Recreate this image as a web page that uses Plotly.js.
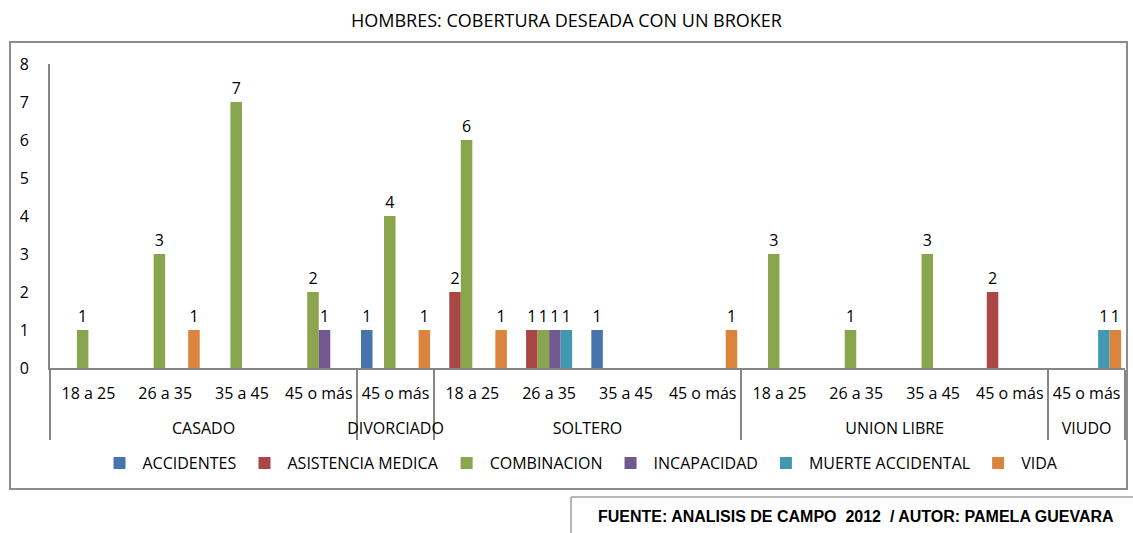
<!DOCTYPE html>
<html><head><meta charset="utf-8">
<script src="https://cdn.plot.ly/plotly-3.0.1.min.js"></script>
<style>html,body{margin:0;padding:0;background:#fff}</style>
</head><body><div id="chart" style="width:1133px;height:533px"></div>
<script>
// ---- data ----
const groups = ["CASADO","CASADO","CASADO","CASADO","DIVORCIADO","SOLTERO","SOLTERO","SOLTERO","SOLTERO","UNION LIBRE","UNION LIBRE","UNION LIBRE","UNION LIBRE","VIUDO"];
const ages = ["18 a 25","26 a 35","35 a 45","45 o más","45 o más","18 a 25","26 a 35","35 a 45","45 o más","18 a 25","26 a 35","35 a 45","45 o más","45 o más"];
const seriesNames = ["ACCIDENTES","ASISTENCIA MEDICA","COMBINACION","INCAPACIDAD","MUERTE ACCIDENTAL","VIDA"];
const accidentes  = [null,null,null,null,1,null,null,1,null,null,null,null,null,null];
const asistencia  = [null,null,null,null,null,2,1,null,null,null,null,null,2,null];
const combinacion = [1,3,7,2,4,6,1,null,null,3,1,3,null,null];
const incapacidad = [null,null,null,1,null,null,1,null,null,null,null,null,null,null];
const muerte      = [null,null,null,null,null,null,1,null,null,null,null,null,null,1];
const vida        = [null,1,null,null,1,1,null,null,1,null,null,null,null,1];
const title = "HOMBRES: COBERTURA DESEADA CON UN BROKER";
const footnote = "FUENTE: ANALISIS DE CAMPO  2012  / AUTOR: PAMELA GUEVARA";

// ---- style ----
const colors = ["#4674AB","#AA4643","#89A54E","#71588F","#4198AF","#DB843D"];
const FONT = "'Open Sans', Lato, sans-serif";
const FS = 16;
const W = 1133, H = 533, ML = 50, MR = 8, MT = 64, MB = 165;
const PW = W - ML - MR, PH = H - MT - MB;
const px = x => (x - ML) / PW;
const py = y => (H - MB - y) / PH;

// inner labels get an extra blank line so the group labels sit lower, as in the reference
const innerLabels = ages.map(a => a + "<br>\u00a0");

const values = [accidentes, asistencia, combinacion, incapacidad, muerte, vida];
const traces = values.map((v, i) => ({
  type: "bar",
  name: seriesNames[i],
  x: [groups, innerLabels],
  y: v,
  marker: {color: colors[i]},
  texttemplate: "%{y}",
  textposition: "outside",
  constraintext: "none",
  cliponaxis: false,
  textfont: {family: FONT, size: FS, color: "#000"},
  hoverinfo: "skip"
}));

const gray = "#868686";
const layout = {
  width: W, height: H,
  margin: {l: ML, r: MR, t: MT, b: MB, pad: 0},
  paper_bgcolor: "#fff", plot_bgcolor: "#fff",
  font: {family: FONT, size: FS, color: "#000"},
  title: {text: title, font: {family: FONT, size: 18, color: "#000"}, xref: "container", x: 0.5, xanchor: "center", yref: "container", y: 1 - 21 / H, yanchor: "middle"},
  bargap: 0.1, bargroupgap: 0,
  showlegend: true,
  legend: {orientation: "h", x: px(580), xanchor: "center", y: py(463), yanchor: "middle", font: {family: FONT, size: FS}, traceorder: "normal", itemwidth: 36},
  xaxis: {type: "multicategory", showline: true, linecolor: gray, linewidth: 2, ticks: "", showgrid: false, zeroline: false, showdividers: true, dividercolor: gray, dividerwidth: 2, ticklabelstandoff: 10, tickfont: {family: FONT, size: FS}},
  yaxis: {range: [0, 8], dtick: 1, showline: true, linecolor: gray, linewidth: 2, ticks: "", showgrid: false, zeroline: false, ticklabelstandoff: 16, tickfont: {family: FONT, size: FS}},
  shapes: [
    {type: "rect", xref: "paper", yref: "paper", x0: px(10), x1: px(1127), y0: py(489), y1: py(42), line: {color: "#8c8c8c", width: 2}},
    {type: "line", xref: "paper", yref: "paper", x0: px(571), x1: px(1133), y0: py(497), y1: py(497), line: {color: "#a0a0a0", width: 1.5}},
    {type: "line", xref: "paper", yref: "paper", x0: px(571), x1: px(571), y0: py(497), y1: py(533), line: {color: "#a0a0a0", width: 1.5}}
  ],
  annotations: [
    {text: "<b>" + footnote + "</b>", xref: "paper", yref: "paper", x: px(856), y: py(516), xanchor: "center", yanchor: "middle", showarrow: false, font: {family: "'Liberation Sans', Arial, sans-serif", size: 16, color: "#000"}}
  ]
};

Plotly.newPlot("chart", traces, layout, {displayModeBar: false, staticPlot: true});
</script>
</body></html>
